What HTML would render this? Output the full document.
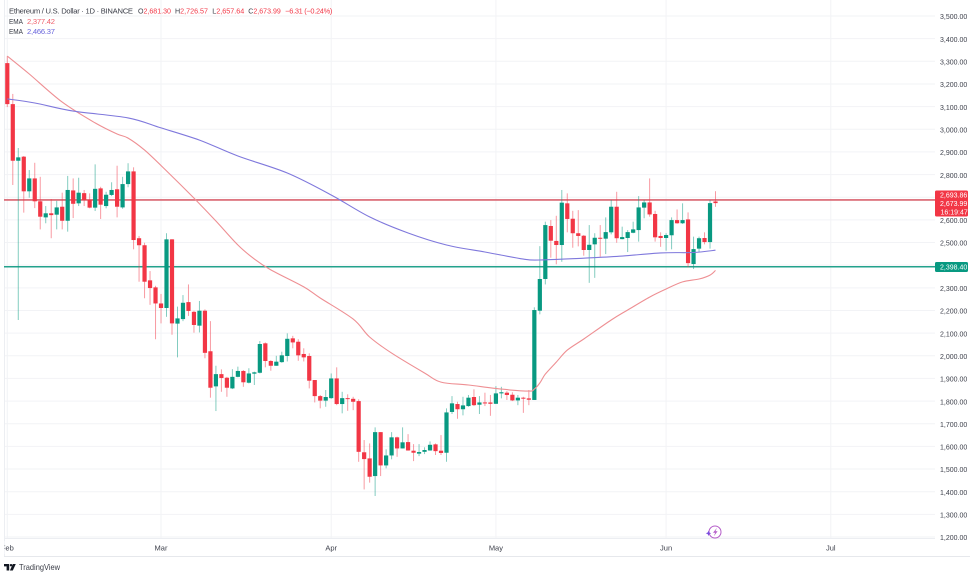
<!DOCTYPE html>
<html lang="en">
<head>
<meta charset="utf-8">
<title>Ethereum / U.S. Dollar 1D chart</title>
<style>
html,body{margin:0;padding:0;background:#fff;width:975px;height:574px;overflow:hidden}
svg{display:block;filter:blur(0.3px)}
text{font-family:"Liberation Sans",sans-serif}
</style>
</head>
<body>
<svg id="chart" xmlns="http://www.w3.org/2000/svg" width="975" height="574" viewBox="0 0 975 574">
  <rect x="0" y="0" width="975" height="574" fill="#ffffff"/>
  <g id="grid"></g>
  <line x1="4.5" y1="0" x2="4.5" y2="556" stroke="#eceef2" stroke-width="1"/>
  <line x1="4" y1="538.5" x2="935" y2="538.5" stroke="#eceef2" stroke-width="1"/>
  <line x1="4" y1="556.5" x2="970" y2="556.5" stroke="#e6e8ec" stroke-width="1"/>
  <g id="levels"></g>
  <g id="candles"></g>
  <path id="emaFastLine" fill="none" stroke="#ee8f93" stroke-width="1.1"/>
  <path id="emaSlowLine" fill="none" stroke="#7f78dc" stroke-width="1.1"/>
  <g id="priceAxis"></g>
  <g id="timeAxis"></g>

  <g>
    <rect x="935" y="190.5" width="33" height="26" rx="1.5" fill="#f23645"/>
    <text x="940" y="197.5" font-size="7" fill="#ffffff">2,693.86</text>
    <text x="940" y="206" font-size="7" fill="#ffffff">2,673.99</text>
    <text x="940.5" y="214.5" font-size="7" fill="#ffffff">16:19:47</text>
  </g>
  <g>
    <rect x="935" y="262" width="33" height="10" rx="1.5" fill="#089981"/>
    <text x="940" y="269.6" font-size="7" fill="#ffffff">2,398.40</text>
  </g>

  <g>
    <text x="9" y="13.4" font-size="7.6" fill="#3a3d47" textLength="124" lengthAdjust="spacing">Ethereum / U.S. Dollar · 1D · BINANCE</text>
    <text x="138" y="13.4" font-size="7.4" fill="#3a3d47" textLength="33" lengthAdjust="spacingAndGlyphs">O<tspan fill="#f23645">2,681.30</tspan></text>
    <text x="175" y="13.4" font-size="7.4" fill="#3a3d47" textLength="33" lengthAdjust="spacingAndGlyphs">H<tspan fill="#f23645">2,726.57</tspan></text>
    <text x="212.3" y="13.4" font-size="7.4" fill="#3a3d47" textLength="32" lengthAdjust="spacingAndGlyphs">L<tspan fill="#f23645">2,657.64</tspan></text>
    <text x="248.3" y="13.4" font-size="7.4" fill="#3a3d47" textLength="32.5" lengthAdjust="spacingAndGlyphs">C<tspan fill="#f23645">2,673.99</tspan></text>
    <text x="285.3" y="13.4" font-size="7.4" fill="#f23645" textLength="47" lengthAdjust="spacing">−6.31 (−0.24%)</text>
    <text x="9" y="23.8" font-size="7.6" fill="#3a3d47" textLength="14" lengthAdjust="spacingAndGlyphs">EMA</text>
    <text x="27" y="23.8" font-size="7.6" fill="#f0616d" textLength="28" lengthAdjust="spacing">2,377.42</text>
    <text x="9" y="33.8" font-size="7.6" fill="#3a3d47" textLength="14" lengthAdjust="spacingAndGlyphs">EMA</text>
    <text x="27" y="33.8" font-size="7.6" fill="#6a66dc" textLength="28" lengthAdjust="spacing">2,466.37</text>
  </g>

  <g>
    <circle cx="715" cy="532" r="6" fill="#ffffff" stroke="#b45cc8" stroke-width="1"/>
    <path d="M717 527.8 L713 532.8 L715.2 532.8 L713.8 536.2 L717.6 531.2 L715.4 531.2 Z" fill="#b45cc8"/>
    <path d="M708.5 530.6 L709.3 532.5 L711.2 533.3 L709.3 534.1 L708.5 536 L707.7 534.1 L705.8 533.3 L707.7 532.5 Z" fill="#7a4de0"/>
  </g>

  <g>
    <path d="M4 564 H9.2 V570.5 H6.6 V566.4 H4 Z M15.8 564 L12.8 570.5 H9.9 L12.8 564 Z" fill="#131722"/>
    <circle cx="11" cy="565.2" r="1.2" fill="#131722"/>
    <text x="19" y="570" font-size="8.4" fill="#3a3d47" textLength="41" lengthAdjust="spacingAndGlyphs">TradingView</text>
  </g>
</svg>

<script>
// Candle values by day, starting at 1 Feb
const opens = [
  3292,3111,2861,2879,2726,2783,2682,2611,2629,2623,
  2658,2596,2730,2673,2718,2688,2654,2739,2661,2710,
  2735,2655,2758,2814,2519,2488,2333,2302,2231,2211,
  2514,2142,2162,2237,2194,2133,2199,2020,1865,1919,
  1903,1856,1907,1933,1881,1921,1925,2055,1977,1956,
  1972,1999,2077,2062,2008,1999,1893,1822,1802,1813,
  1900,1787,1813,1810,1800,1574,1547,1469,1663,1516,
  1560,1640,1591,1619,1581,1568,1576,1582,1609,1581,
  1572,1752,1787,1764,1778,1818,1784,1794,1794,1788,
  1834,1837,1828,1803,1815,1812,1805,2199,2339,2573,
  2507,2489,2673,2605,2541,2530,2467,2492,2521,2517,
  2545,2658,2515,2520,2543,2555,2654,2677,2626,2529,
  2520,2532,2599,2585,2602,2405,2473,2520,2502,2681.30
];
const closes = [
  3111,2861,2876,2726,2783,2682,2614,2629,2621,2655,
  2596,2732,2671,2720,2688,2654,2737,2667,2711,2732,
  2658,2758,2814,2511,2488,2327,2299,2231,2211,2514,
  2143,2165,2234,2198,2136,2199,2013,1859,1919,1902,
  1859,1907,1933,1883,1922,1927,2052,1977,1956,1974,
  2002,2075,2059,2002,1993,1890,1822,1802,1818,1900,
  1787,1813,1810,1797,1576,1544,1466,1663,1516,1560,
  1640,1591,1618,1582,1572,1575,1584,1607,1579,1571,
  1750,1790,1764,1781,1815,1782,1794,1793,1788,1834,
  1839,1827,1803,1815,1812,1806,2202,2339,2577,2508,
  2489,2676,2604,2541,2529,2467,2490,2521,2517,2546,
  2658,2519,2524,2546,2558,2655,2677,2624,2523,2520,
  2533,2599,2585,2599,2409,2471,2519,2502,2674,2673.99
];
const highs = [
  3323,3156,2917,2882,2820,2852,2790,2661,2692,2684,
  2720,2794,2783,2786,2732,2717,2845,2746,2724,2766,
  2839,2790,2850,2832,2529,2499,2374,2309,2273,2541,
  2515,2217,2268,2315,2199,2242,2205,2153,1956,1940,
  1907,1941,1952,1937,1945,1930,2065,2059,1981,2000,
  2018,2099,2088,2073,2033,2011,1893,1827,1849,1922,
  1949,1841,1830,1819,1808,1628,1613,1684,1663,1587,
  1663,1643,1684,1654,1610,1610,1596,1622,1613,1650,
  1768,1822,1797,1819,1827,1852,1822,1837,1827,1866,
  1863,1844,1839,1827,1819,1849,2214,2484,2592,2599,
  2618,2732,2717,2640,2643,2533,2577,2541,2577,2611,
  2688,2724,2570,2555,2592,2705,2688,2783,2640,2545,
  2541,2611,2646,2673,2633,2526,2526,2545,2688,2726.57
];
const lows = [
  3098,2754,2158,2632,2698,2652,2558,2585,2519,2558,
  2558,2548,2608,2661,2661,2651,2639,2604,2651,2705,
  2611,2649,2744,2470,2327,2254,2225,2073,2143,2172,
  2093,1993,2153,2176,2102,2103,1989,1815,1756,1841,
  1819,1853,1905,1863,1878,1871,1922,1949,1934,1956,
  1969,1975,2033,1978,1975,1856,1794,1768,1775,1810,
  1782,1746,1757,1760,1532,1410,1440,1381,1469,1503,
  1543,1554,1591,1581,1535,1557,1566,1581,1562,1562,
  1532,1743,1722,1737,1775,1778,1743,1778,1735,1787,
  1812,1805,1800,1782,1748,1782,1805,2183,2315,2433,
  2404,2415,2545,2477,2483,2442,2322,2344,2437,2449,
  2536,2499,2514,2458,2541,2504,2607,2614,2504,2481,
  2464,2470,2583,2582,2390,2383,2457,2492,2473,2657.64
];

// EMA readings at sampled day numbers
const emaFastDays = [0,4,10,16,20,22,25,29,34,38,42,45,48,54,57,63,66,70,76,79,84,90,95,96,97,98,100,102,105,110,113,117,120,123,126,128,129];
const emaFastValues = [3323,3244,3120,3028,2979,2961,2908,2816,2696,2595,2489,2427,2379,2304,2255,2162,2083,2012,1924,1884,1871,1853,1844,1853,1880,1919,1972,2025,2074,2158,2202,2259,2295,2326,2339,2356,2377];
const emaSlowDays = [0,5,12,22,28,35,42,51,59,66,73,80,87,94,97,105,112,119,125,129];
const emaSlowValues = [3134,3116,3080,3050,3006,2952,2882,2807,2710,2613,2542,2489,2458,2427,2423,2431,2440,2454,2456,2466];

// Axis labels
const priceTicks = [3500,3400,3300,3200,3100,3000,2900,2800,2700,2600,2500,2400,2300,2200,2100,2000,1900,1800,1700,1600,1500,1400,1300,1200];
const hiddenPriceLabels = [2700,2400];
const monthLabels = ["Feb","Mar","Apr","May","Jun","Jul"];
const monthDays = [0,28,59,89,120,150];

// Horizontal drawn levels
const resistanceLevel = 2688;
const supportLevel = 2393;

const NS = "http://www.w3.org/2000/svg";
function yScale(p){ return 16 + (3500 - p) * 521 / 2300; }
function xScale(d){ return 7.3 + 5.49 * d; }
function make(tag, attrs){
  const el = document.createElementNS(NS, tag);
  for (const k in attrs) el.setAttribute(k, attrs[k]);
  return el;
}

const grid = document.getElementById("grid");
priceTicks.forEach(function(p){
  const l = make("line", {x1:4, x2:935, y1:yScale(p), y2:yScale(p), stroke:"#f2f3f6", "stroke-width":1});
  
  
  grid.appendChild(l);
});
monthDays.forEach(function(d){
  const l = make("line", {x1:xScale(d), x2:xScale(d), y1:0, y2:538, stroke:"#f2f3f6", "stroke-width":1});
  
  
  grid.appendChild(l);
});

const levels = document.getElementById("levels");
const resLine = make("line", {x1:4, x2:935, y1:yScale(resistanceLevel), y2:yScale(resistanceLevel), stroke:"#d9636f", "stroke-width":1.6});


levels.appendChild(resLine);
const supLine = make("line", {x1:4, x2:935, y1:yScale(supportLevel), y2:yScale(supportLevel), stroke:"#23a28c", "stroke-width":1.4});


levels.appendChild(supLine);

const candles = document.getElementById("candles");
opens.forEach(function(o, i){
  const c = closes[i];
  const color = c >= o ? "#089981" : "#f23645";
  const x = xScale(i);
  const wick = make("line", {x1:x, x2:x, y1:yScale(highs[i]), y2:yScale(lows[i]), stroke:color, "stroke-width":1, "stroke-opacity":0.5});
  
  
  candles.appendChild(wick);
  const top = yScale(Math.max(o, c));
  const h = Math.max(yScale(Math.min(o, c)) - top, 1);
  const body = make("rect", {x:x - 2.1, y:top, width:4.2, height:h, fill:color});
  
  
  candles.appendChild(body);
});

// Smooth curve through the readings (Catmull-Rom to cubic Bezier)
function linePath(days, values){
  const pts = days.map(function(d, i){ return [xScale(d), yScale(values[i])]; });
  let out = "M" + pts[0][0].toFixed(1) + " " + pts[0][1].toFixed(1);
  for (let i = 0; i < pts.length - 1; i++){
    const p0 = pts[Math.max(i - 1, 0)], p1 = pts[i], p2 = pts[i + 1], p3 = pts[Math.min(i + 2, pts.length - 1)];
    const c1x = p1[0] + (p2[0] - p0[0]) / 6, c1y = p1[1] + (p2[1] - p0[1]) / 6;
    const c2x = p2[0] - (p3[0] - p1[0]) / 6, c2y = p2[1] - (p3[1] - p1[1]) / 6;
    out += " C" + c1x.toFixed(1) + " " + c1y.toFixed(1) + " " + c2x.toFixed(1) + " " + c2y.toFixed(1) + " " + p2[0].toFixed(1) + " " + p2[1].toFixed(1);
  }
  return out;
}
document.getElementById("emaFastLine").setAttribute("d", linePath(emaFastDays, emaFastValues));
document.getElementById("emaSlowLine").setAttribute("d", linePath(emaSlowDays, emaSlowValues));

const priceAxis = document.getElementById("priceAxis");
priceTicks.forEach(function(p){
  if (hiddenPriceLabels.indexOf(p) >= 0) return;
  const t = make("text", {x:940, y:yScale(p) + 3.2, "font-size":7, fill:"#3f424d"});
  
  
  t.textContent = p.toLocaleString("en-US", {minimumFractionDigits:2, maximumFractionDigits:2});
  priceAxis.appendChild(t);
});

const timeAxis = document.getElementById("timeAxis");
monthLabels.forEach(function(m, i){
  const t = make("text", {x:Math.max(xScale(monthDays[i]), 7.3), y:550.5, "font-size":7.5, fill:"#3f424d", "text-anchor":"middle"});
  
  
  t.textContent = m;
  timeAxis.appendChild(t);
});
const clipCover = make("rect", {x:0, y:541, width:4.4, height:13, fill:"#ffffff"});


timeAxis.appendChild(clipCover);
</script>
</body>
</html>
